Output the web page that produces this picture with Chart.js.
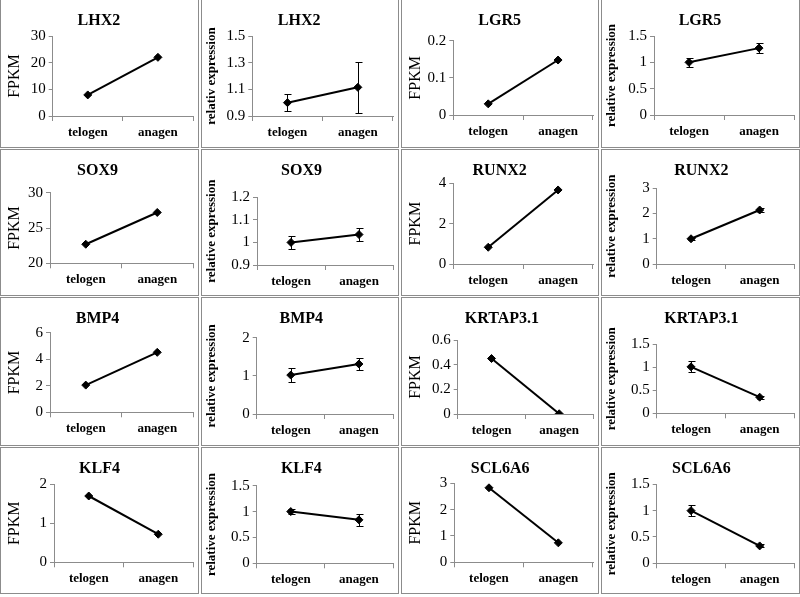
<!DOCTYPE html>
<html lang="en">
<head>
  <meta charset="UTF-8" />
  <title>FPKM and relative expression</title>
  <script src="https://cdn.jsdelivr.net/npm/chart.js"></script>
  <style>
    body {
      margin: 0;
      background: #fff;
    }
    #grid {
      position: relative;
      width: 800px;
      height: 597px;
      overflow: hidden;
    }
    .panel {
      position: absolute;
      box-sizing: border-box;
      border: 1px solid #8c8c8c;
      background: #fff;
    }
    .panel canvas {
      display: block;
    }
  </style>
</head>
<body>
  <div id="grid"></div>

  <script>
    // data
    const categories = ['telogen', 'anagen'];
    const titles = ['LHX2', 'LHX2', 'LGR5', 'LGR5',
                    'SOX9', 'SOX9', 'RUNX2', 'RUNX2',
                    'BMP4', 'BMP4', 'KRTAP3.1', 'KRTAP3.1',
                    'KLF4', 'KLF4', 'SCL6A6', 'SCL6A6'];
    const yTitles = ['FPKM', 'relativ expression', 'FPKM', 'relative expression',
                     'FPKM', 'relative expression', 'FPKM', 'relative expression',
                     'FPKM', 'relative expression', 'FPKM', 'relative expression',
                     'FPKM', 'relative expression', 'FPKM', 'relative expression'];
    const values = [
      [7.9, 22.0], [1.0, 1.115], [0.03, 0.148], [1.0, 1.27],
      [22.7, 27.2], [1.0, 1.035], [0.83, 3.67], [1.0, 2.14],
      [2.05, 4.52], [1.02, 1.31], [0.45, 0.002], [1.01, 0.35],
      [1.7, 0.72], [1.0, 0.84], [2.83, 0.74], [1.0, 0.33]
    ];
    const errors = [
      null, [0.065, 0.19], null, [0.08, 0.1],
      null, [0.028, 0.03], null, [0.05, 0.08],
      null, [0.18, 0.15], null, [0.12, 0.03],
      null, [0.04, 0.12], null, [0.1, 0.03]
    ];
    const yMin = [0, 0.9, 0, 0, 20, 0.9, 0, 0, 0, 0, 0, 0, 0, 0, 0, 0];
    const yMax = [30, 1.5, 0.2, 1.5, 30, 1.2, 4, 3, 6, 2, 0.6, 1.5, 2, 1.5, 3, 1.5];
    const yStep = [10, 0.2, 0.1, 0.5, 5, 0.1, 2, 1, 2, 1, 0.2, 0.5, 1, 0.5, 1, 0.5];

    // panel frames and plot boxes (page pixels)
    const colX = [0, 201, 401, 601];
    const colW = [199, 198, 198, 199];
    const rowY = [-1, 149, 297, 447];
    const rowH = [149, 147, 149, 147];
    const axisX = [52.7, 252.3, 453.3, 654, 50, 257, 453.3, 656.7,
                   50, 256.7, 457.7, 656.7, 54, 256.7, 454.3, 656.7];
    const plotTop = [36, 36, 40.7, 36, 192.7, 197.3, 183.3, 188.3,
                     332.7, 337.7, 340, 344.3, 484.3, 485.7, 483.3, 484.3];
    const plotBottom = [116, 116, 115, 115, 263.3, 265, 264, 264,
                        412.3, 414, 414, 413.3, 562.3, 563.3, 562.3, 563.3];
    const plotWidth = 144;

    const serif = "'Times New Roman', 'Liberation Serif', serif";
    const axisGrey = '#8c8c8c';
    const titleSize = 16;

    const errorBars = {
      id: 'errorBars',
      afterDatasetsDraw(chart, args, opts) {
        const errs = opts.errors;
        if (!errs) return;
        const ctx = chart.ctx;
        const y = chart.scales.y;
        const data = chart.data.datasets[0].data;
        ctx.save();
        ctx.strokeStyle = '#000';
        ctx.lineWidth = 1;
        chart.getDatasetMeta(0).data.forEach((pt, i) => {
          const hi = Math.round(y.getPixelForValue(data[i] + errs[i])) + 0.5;
          const lo = Math.round(y.getPixelForValue(data[i] - errs[i])) + 0.5;
          const x = Math.round(pt.x) + 0.5;
          ctx.beginPath();
          ctx.moveTo(x, hi); ctx.lineTo(x, lo);
          ctx.moveTo(x - 3, hi); ctx.lineTo(x + 4, hi);
          ctx.moveTo(x - 3, lo); ctx.lineTo(x + 4, lo);
          ctx.stroke();
        });
        ctx.restore();
      }
    };

    const grid = document.getElementById('grid');

    titles.forEach((title, i) => {
      const r = Math.floor(i / 4), c = i % 4;
      const panel = document.createElement('div');
      panel.className = 'panel';
      panel.style.left = colX[c] + 'px';
      panel.style.top = rowY[r] + 'px';
      panel.style.width = colW[c] + 'px';
      panel.style.height = rowH[r] + 'px';
      const canvas = document.createElement('canvas');
      const cw = colW[c] - 2, ch = rowH[r] - 2;
      canvas.width = cw;
      canvas.height = ch;
      panel.appendChild(canvas);
      grid.appendChild(panel);

      const cLeft = colX[c] + 1, cTop = rowY[r] + 1;
      const leftW = axisX[i] - cLeft;
      const top = plotTop[i] - cTop;
      const bottom = plotBottom[i] - cTop;
      const xH = 30;
      const isFpkm = yTitles[i] === 'FPKM';
      const titlePadTop = 11;

      new Chart(canvas.getContext('2d'), {
        type: 'line',
        data: {
          labels: categories,
          datasets: [{
            data: values[i],
            borderColor: '#000',
            backgroundColor: '#000',
            borderWidth: 2,
            pointStyle: 'rectRot',
            pointRadius: 4,
            pointBorderWidth: 1,
            tension: 0
          }]
        },
        options: {
          responsive: false,
          animation: false,
          devicePixelRatio: 1,
          layout: {
            padding: {
              top: 0,
              left: 0,
              right: cw - leftW - plotWidth,
              bottom: ch - bottom - xH
            }
          },
          plugins: {
            legend: { display: false },
            tooltip: { enabled: false },
            title: {
              display: true,
              text: title,
              color: '#000',
              font: { family: serif, size: titleSize, weight: 'bold' },
              padding: { top: titlePadTop, bottom: top - titlePadTop - titleSize * 1.2 }
            },
            errorBars: { errors: errors[i] }
          },
          scales: {
            x: {
              type: 'category',
              offset: true,
              grid: { offset: true, drawOnChartArea: false, tickLength: 5, color: axisGrey },
              border: { display: true, color: axisGrey },
              ticks: {
                color: '#000',
                padding: 4,
                maxRotation: 0,
                font: { family: serif, size: 13, weight: 'bold' }
              },
              afterFit(scale) { scale.height = xH; }
            },
            y: {
              min: yMin[i],
              max: yMax[i],
              grid: { drawOnChartArea: false, tickLength: 4, color: axisGrey },
              border: { display: true, color: axisGrey },
              ticks: {
                stepSize: yStep[i],
                color: '#000',
                padding: 3,
                font: { family: serif, size: 15 },
                callback: v => String(Number(v.toFixed(3)))
              },
              title: {
                display: true,
                text: yTitles[i],
                color: '#000',
                padding: { top: isFpkm ? 4 : 2, bottom: 0 },
                font: isFpkm
                  ? { family: serif, size: 16 }
                  : { family: serif, size: 13, weight: 'bold' }
              },
              afterFit(scale) { scale.width = leftW; }
            }
          }
        },
        plugins: [errorBars]
      });
    });
  </script>
</body>
</html>
